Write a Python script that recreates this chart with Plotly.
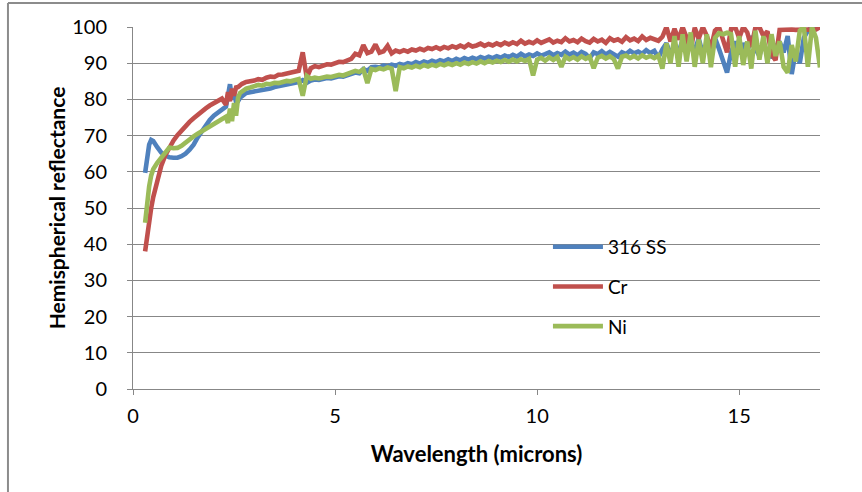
import plotly.graph_objects as go

# Wavelength sampling (microns): finer steps across the near-IR knee, 0.1 steps after
wavelength = [
    0.30, 0.35, 0.40, 0.45, 0.50, 0.60, 0.70, 0.80, 0.90, 1.00,
    1.10, 1.20, 1.30, 1.40, 1.50, 1.60, 1.70, 1.80, 1.90, 2.00,
    2.10, 2.20, 2.30, 2.35, 2.40, 2.45, 2.50, 2.55, 2.60, 2.65,
    2.7, 2.8, 2.9,
    3.0, 3.1, 3.2, 3.3, 3.4, 3.5, 3.6, 3.7, 3.8, 3.9,
    4.0, 4.1, 4.2, 4.3, 4.4, 4.5, 4.6, 4.7, 4.8, 4.9,
    5.0, 5.1, 5.2, 5.3, 5.4, 5.5, 5.6, 5.7, 5.8, 5.9,
    6.0, 6.1, 6.2, 6.3, 6.4, 6.5, 6.6, 6.7, 6.8, 6.9,
    7.0, 7.1, 7.2, 7.3, 7.4, 7.5, 7.6, 7.7, 7.8, 7.9,
    8.0, 8.1, 8.2, 8.3, 8.4, 8.5, 8.6, 8.7, 8.8, 8.9,
    9.0, 9.1, 9.2, 9.3, 9.4, 9.5, 9.6, 9.7, 9.8, 9.9,
    10.0, 10.1, 10.2, 10.3, 10.4, 10.5, 10.6, 10.7, 10.8, 10.9,
    11.0, 11.1, 11.2, 11.3, 11.4, 11.5, 11.6, 11.7, 11.8, 11.9,
    12.0, 12.1, 12.2, 12.3, 12.4, 12.5, 12.6, 12.7, 12.8, 12.9,
    13.0, 13.1, 13.2, 13.3, 13.4, 13.5, 13.6, 13.7, 13.8, 13.9,
    14.0, 14.1, 14.2, 14.3, 14.4, 14.5, 14.6, 14.7, 14.8, 14.9,
    15.0, 15.1, 15.2, 15.3, 15.4, 15.5, 15.6, 15.7, 15.8, 15.9,
    16.0, 16.1, 16.2, 16.3, 16.4, 16.5, 16.6, 16.7, 16.8, 16.9,
    17.0,
]

# Hemispherical reflectance (%) of each sample
ss316 = [
    59.7, 64.0, 67.5, 68.8, 68.5, 66.8, 65.3, 64.5, 64.0, 63.9,
    63.9, 64.3, 65.0, 66.1, 67.5, 69.5, 71.3, 72.9, 74.3, 75.5,
    76.4, 77.3, 78.0, 81.0, 84.2, 80.0, 81.5, 79.3, 79.5, 80.5,
    81.0, 81.8, 82.0,
    82.2, 82.5, 82.4, 82.9, 83.0, 83.4, 83.6, 83.8, 84.1, 84.3,
    84.6, 84.8, 85.3, 84.6, 85.2, 85.5, 85.4, 85.7, 85.9, 85.8,
    86.1, 86.4, 86.3, 86.7, 87.0, 87.4, 87.2, 88.4, 87.9, 88.9,
    89.0, 88.8, 89.4, 89.1, 89.6, 89.3, 89.8, 89.5, 90.0, 89.7,
    90.3, 89.9, 90.5, 90.1, 90.7, 90.3, 90.8, 90.5, 91.1, 90.6,
    91.2, 90.8, 91.4, 91.0, 91.5, 91.1, 91.7, 91.3, 91.8, 91.4,
    91.9, 91.5, 92.1, 91.7, 92.3, 91.8, 92.6, 91.9, 92.4, 92.0,
    92.7, 92.1, 92.5, 93.0, 92.2, 92.8, 92.3, 93.2, 92.4, 92.9,
    92.2, 93.1, 92.6, 91.4, 93.0, 92.5, 93.3, 92.4, 93.1, 92.6,
    91.8, 93.0, 92.5, 93.4, 92.7, 93.2, 92.6, 93.6, 92.8, 93.4,
    91.5, 93.8, 95.5, 92.5, 94.8, 93.0, 96.5, 92.8, 95.0, 93.5,
    96.8, 92.5, 95.5, 93.8, 97.0, 94.0, 90.5, 87.4, 93.0, 96.0,
    92.5, 95.5, 93.0, 97.5, 94.0, 92.0, 96.0, 92.0, 91.8, 94.5,
    96.0, 93.0, 97.5, 87.0, 93.5, 90.0, 97.0, 99.0, 100.0, 99.5,
    100.0,
]

cr = [
    38.0, 42.5, 46.5, 50.0, 53.0, 57.8, 61.7, 64.6, 66.8, 68.6,
    70.1, 71.5, 72.7, 73.8, 74.8, 75.8, 76.7, 77.5, 78.3, 79.0,
    79.6, 80.2, 78.5, 82.0, 79.5, 83.0, 81.0, 83.3, 83.4, 83.9,
    84.3, 84.8, 84.9,
    85.2, 85.6, 85.4, 86.0, 86.3, 86.2, 86.8, 86.9, 87.1, 87.4,
    87.6, 87.9, 93.0, 86.0, 88.6, 89.2, 88.9, 89.4, 89.7, 89.6,
    90.1, 90.4, 90.3, 90.9, 91.2, 92.6, 92.2, 95.0, 92.8, 93.2,
    95.2, 92.9, 93.3, 94.8, 92.7, 93.5, 93.1, 93.6, 93.2, 93.8,
    93.5, 94.0, 93.6, 94.2, 93.9, 94.4, 93.9, 94.5, 94.1, 94.7,
    94.3, 94.9, 94.4, 95.2, 94.6, 94.9, 95.4, 94.8, 95.3, 94.9,
    95.5, 95.0, 95.7, 95.2, 95.8, 95.3, 96.2, 95.4, 95.9, 95.5,
    96.3, 95.6, 96.0, 96.6, 95.7, 96.2, 95.8, 96.9, 96.0, 96.4,
    95.8, 96.8, 96.1, 95.7, 96.7, 96.0, 96.5, 95.6, 96.9, 96.2,
    96.6, 95.9, 97.2, 96.3, 96.8, 96.1, 97.4, 96.4, 97.0, 96.5,
    96.2, 97.3, 100.0, 96.0, 99.5, 96.5, 100.0, 97.0, 93.5, 99.8,
    96.8, 100.0, 97.5, 94.0, 99.0, 100.0, 96.5, 93.0, 99.5, 100.0,
    97.0, 100.0, 98.5, 94.5, 99.8, 100.0, 97.5, 98.8, 92.5, 90.8,
    99.2, 99.3, 99.2, 99.3, 99.2, 99.3, 99.2, 99.3, 99.2, 99.3,
    100.0,
]

ni = [
    45.9, 51.5, 56.0, 59.0, 60.7, 62.5, 63.8, 65.2, 66.7, 66.5,
    66.6, 67.2, 68.2, 69.0, 69.8, 70.5, 71.2, 71.9, 72.6, 73.2,
    73.8, 74.4, 75.2, 73.5, 77.5, 74.0, 79.0, 75.5, 80.5, 81.8,
    82.3, 83.0, 83.3,
    83.6, 84.0, 83.8, 84.3, 84.2, 84.6, 84.5, 84.9, 85.1, 85.0,
    85.4, 85.6, 81.0, 86.5, 85.7, 86.0, 85.8, 86.1, 86.3, 86.2,
    86.5, 86.8, 86.6, 87.1, 87.4, 87.9, 87.6, 88.3, 84.5, 88.4,
    88.1, 88.6, 88.3, 88.8, 88.5, 82.3, 88.9, 88.6, 89.1, 88.8,
    89.3, 88.9, 89.5, 89.1, 89.6, 89.2, 89.8, 89.4, 89.9, 89.5,
    90.0, 89.6, 90.2, 89.8, 90.3, 89.9, 90.5, 90.0, 90.6, 90.2,
    90.7, 90.3, 90.9, 90.4, 91.0, 90.5, 91.1, 90.6, 91.2, 86.6,
    91.0, 91.5, 90.7, 91.6, 90.9, 91.7, 89.0, 91.8, 91.1, 91.7,
    91.0, 91.9, 91.2, 91.8, 88.6, 91.5, 92.0, 91.3, 91.9, 91.1,
    88.5, 91.8, 92.1, 91.4, 92.0, 91.3, 92.2, 91.5, 92.0, 91.4,
    92.1, 88.5, 95.5, 90.0, 97.5, 89.0, 98.0, 90.5, 98.5, 89.0,
    96.5, 90.0, 98.0, 88.9, 97.0, 98.3, 98.0, 98.4, 98.0, 89.0,
    97.5, 89.5, 96.0, 88.5, 99.0, 91.0, 97.5, 90.0, 98.0, 92.0,
    96.0, 89.0, 87.4, 95.0, 90.5, 99.0, 100.0, 89.0, 100.0, 97.0,
    88.8,
]

series = [
    ("316 SS", ss316, "#4F81BD"),
    ("Cr", cr, "#C0504D"),
    ("Ni", ni, "#9BBB59"),
]

FONT = "Lato, 'Open Sans', sans-serif"
GRID = "#878787"

fig = go.Figure()
for i, (name, values, color) in enumerate(series):
    fig.add_trace(go.Scatter(
        x=wavelength, y=values, name=name, mode="lines",
        line=dict(color=color, width=4.6),
        legendgroup=f"g{i}",
    ))

fig.update_layout(
    width=862, height=492,
    margin=dict(l=133, r=42, t=27, b=103),
    paper_bgcolor="white", plot_bgcolor="white",
    font=dict(family=FONT, size=20, color="#000000"),
    showlegend=True,
    legend=dict(
        x=0.604, y=0.445, xanchor="left", yanchor="top",
        bgcolor="rgba(0,0,0,0)", font=dict(size=19),
        tracegroupgap=12, itemwidth=50,
    ),
    xaxis=dict(
        range=[0, 17], dtick=5, tick0=0,
        showgrid=False, zeroline=False,
        showline=True, linecolor=GRID, linewidth=1,
        ticks="outside", ticklen=5, tickcolor=GRID,
        ticklabelstandoff=4,
        tickfont=dict(size=20),
        title=dict(text="<b>Wavelength (microns)</b>", standoff=20,
                   font=dict(size=22)),
    ),
    yaxis=dict(
        range=[0, 100], dtick=10, tick0=0,
        showgrid=True, gridcolor=GRID, gridwidth=1,
        zeroline=False,
        showline=True, linecolor=GRID, linewidth=1,
        ticks="outside", ticklen=5, tickcolor=GRID,
        ticklabelstandoff=16,
        tickfont=dict(size=20),
        title=dict(text="<b>Hemispherical reflectance</b>", standoff=0,
                   font=dict(size=21)),
    ),
)

# Chart-area frame along the top and left edges
fig.add_shape(type="line", xref="paper", yref="paper",
              x0=-0.182, x1=1.1, y0=1.066, y1=1.066,
              line=dict(color="#8C8C8C", width=2))
fig.add_shape(type="line", xref="paper", yref="paper",
              x0=-0.182, x1=-0.182, y0=1.066, y1=-0.3,
              line=dict(color="#8C8C8C", width=2))

fig.write_html("out.html")
